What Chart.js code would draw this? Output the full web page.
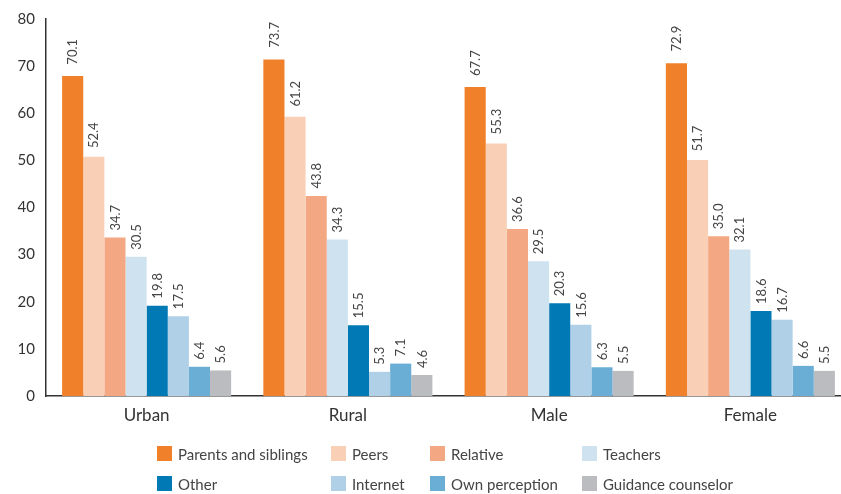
<!DOCTYPE html>
<html>
<head>
<meta charset="utf-8">
<script src="https://cdn.jsdelivr.net/npm/chart.js@4/dist/chart.umd.min.js"></script>
<style>
  html, body { margin:0; padding:0; background:#fff; overflow:hidden; width:841px; height:494px; }
  #wrap { position:absolute; left:0; top:0; width:860px; height:430px; }
  #legend { position:absolute; left:0; top:0; width:841px; height:494px; pointer-events:none;
            font-family: Lato, "Open Sans", sans-serif; font-size:15px; color:#444; }
  .li { position:absolute; display:flex; align-items:center; white-space:nowrap; }
  .li span.box { display:inline-block; width:15px; height:15px; margin-right:6px; }
</style>
</head>
<body>
<div id="wrap"><canvas id="c" width="860" height="430"></canvas></div>
<div id="legend"></div>
<script>
const categories = ["Urban", "Rural", "Male", "Female"];
const seriesNames = ["Parents and siblings", "Peers", "Relative", "Teachers", "Other", "Internet", "Own perception", "Guidance counselor"];
const parentsSiblings = [70.1, 73.7, 67.7, 72.9];
const peers = [52.4, 61.2, 55.3, 51.7];
const relative = [34.7, 43.8, 36.6, 35.0];
const teachers = [30.5, 34.3, 29.5, 32.1];
const other = [19.8, 15.5, 20.3, 18.6];
const internet = [17.5, 5.3, 15.6, 16.7];
const ownPerception = [6.4, 7.1, 6.3, 6.6];
const guidanceCounselor = [5.6, 4.6, 5.5, 5.5];
const yTicks = [0, 10, 20, 30, 40, 50, 60, 70, 80];

const seriesValues = [parentsSiblings, peers, relative, teachers, other, internet, ownPerception, guidanceCounselor];
const colors = ["#F0802A", "#F9D0B6", "#F3A783", "#CFE2F0", "#0079B5", "#AFD0E7", "#6AAED6", "#BBBCBF"];

const FONT = 'Lato, "Open Sans", sans-serif';

// In the source graphic the bars are drawn about 3% shorter than the printed axis;
// bars use a hidden scale reproducing that, labels sit at the value on the visible axis.
const barScaleMax = 82.6;

const labelPlugin = {
  id: 'valLabels',
  afterDatasetsDraw(chart) {
    const ctx = chart.ctx;
    const ys = chart.scales.y;
    ctx.save();
    ctx.font = '13px ' + FONT;
    ctx.fillStyle = '#444';
    ctx.textAlign = 'left';
    ctx.textBaseline = 'middle';
    chart.data.datasets.forEach((ds, i) => {
      const meta = chart.getDatasetMeta(i);
      meta.data.forEach((bar, j) => {
        const v = ds.data[j];
        const yPix = Math.min(ys.getPixelForValue(v), bar.y - 6);
        ctx.save();
        ctx.translate(bar.x + 0.5, yPix - 1);
        ctx.rotate(-Math.PI / 2);
        ctx.fillText(v.toFixed(1), 0, 0);
        ctx.restore();
      });
    });
    ctx.restore();
  }
};

new Chart(document.getElementById('c'), {
  type: 'bar',
  data: {
    labels: categories,
    datasets: seriesNames.map((n, i) => ({
      label: n,
      data: seriesValues[i],
      backgroundColor: colors[i],
      borderWidth: 0,
      categoryPercentage: 0.84,
      barPercentage: 1.0,
      yAxisID: 'yb'
    }))
  },
  options: {
    responsive: false,
    animation: false,
    devicePixelRatio: 1,
    layout: { padding: { top: 19, right: 9, left: 0, bottom: 0 } },
    plugins: { legend: { display: false }, tooltip: { enabled: false } },
    scales: {
      x: {
        grid: { display: false, drawTicks: false },
        border: { display: true, color: '#333', width: 1.5 },
        ticks: { color: '#333', font: { family: FONT, size: 17 }, padding: 9 },
        afterFit(s) { s.height = 34; }
      },
      y: {
        min: 0, max: 80,
        afterBuildTicks(s) { s.ticks = yTicks.map(v => ({ value: v })); },
        grid: { display: false, drawOnChartArea: false, drawTicks: true, tickLength: 7, color: '#333', tickWidth: 1.2 },
        border: { display: true, color: '#333', width: 1.5 },
        ticks: { color: '#333', font: { family: FONT, size: 15 }, padding: 4 },
        afterFit(s) { s.width = 46; }
      },
      yb: {
        display: false,
        min: 0, max: barScaleMax,
        position: 'left'
      }
    }
  },
  plugins: [labelPlugin]
});

// legend (HTML)
const legendPos = [
  [157, 446], [331, 446], [430, 446], [582, 446],
  [157, 476], [331, 476], [430, 476], [582, 476]
];
const lg = document.getElementById('legend');
seriesNames.forEach((n, i) => {
  const d = document.createElement('div');
  d.className = 'li';
  d.style.left = legendPos[i][0] + 'px';
  d.style.top = (legendPos[i][1] - 2) + 'px';
  d.style.height = '19px';
  d.innerHTML = '<span class="box" style="background:' + colors[i] + '"></span><span></span>';
  d.lastChild.textContent = n;
  lg.appendChild(d);
});
</script>
</body>
</html>
